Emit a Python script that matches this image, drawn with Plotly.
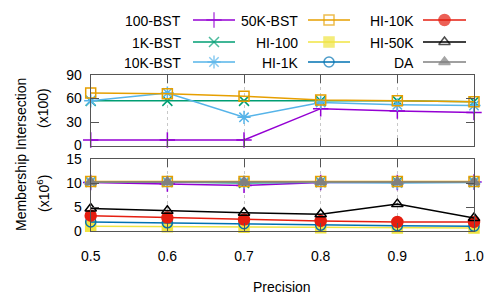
import plotly.graph_objects as go

precision = [0.5, 0.6, 0.7, 0.8, 0.9, 1.0]
precision_labels = ["0.5", "0.6", "0.7", "0.8", "0.9", "1.0"]
series_names = ["100-BST", "1K-BST", "10K-BST", "50K-BST", "HI-100", "HI-1K", "HI-10K", "HI-50K", "DA"]

# top panel (x100)
top_100_bst = [7, 7, 7, 47, 44, 42]
top_1k_bst = [57, 57, 57, 57, 57, 56]
top_10k_bst = [57, 67, 36, 55, 52, 51]
top_50k_bst = [67, 66, 63, 58, 57, 56]

# bottom panel (x10^6)
bot_100_bst = [10.1, 9.8, 9.5, 10.1, 10.1, 10.2]
bot_1k_bst = [10.2, 10.2, 10.0, 10.2, 10.2, 10.2]
bot_10k_bst = [10.2, 10.2, 10.2, 10.1, 10.0, 10.1]
bot_50k_bst = [10.3, 10.3, 10.3, 10.3, 10.3, 10.3]
bot_hi_100 = [1.0, 0.9, 0.8, 0.7, 0.6, 0.6]
bot_hi_1k = [1.9, 1.7, 1.5, 1.2, 1.1, 1.0]
bot_hi_10k = [3.2, 2.8, 2.4, 2.1, 1.9, 1.9]
bot_hi_50k = [4.7, 4.2, 3.8, 3.5, 5.6, 2.7]
bot_da = [10.2, 10.2, 10.2, 10.2, 10.2, 10.2]

top_ticks = [0, 30, 60, 90]
bot_ticks = [0, 5, 10, 15]

colors = ["#9400D3", "#009E73", "#56B4E9", "#E69F00", "#F0E442", "#0072B2", "#E51E10", "#000000", "#808080"]
symbols = ["cross-thin-open", "x-thin-open", "asterisk-open", "square-open", "square",
           "circle-open", "circle", "triangle-up-open", "triangle-up"]
msizes = [11, 10, 11, 10, 10, 10, 11, 10, 10]

top_data = [top_100_bst, top_1k_bst, top_10k_bst, top_50k_bst]
bot_data = [bot_100_bst, bot_1k_bst, bot_10k_bst, bot_50k_bst, bot_hi_100, bot_hi_1k,
            bot_hi_10k, bot_hi_50k, bot_da]

OFF = 8  # page body margin
W, H = 498 - OFF, 299 - OFF
B = 68
PH = H - B  # plot area height with t=0


def px(x):
    return (x - OFF) / W


def py(p):
    return (PH - (p - OFF)) / PH


FONT = "Liberation Sans, Arial, sans-serif"
fig = go.Figure()


def add_series(i, ys, xa, ya):
    fig.add_trace(go.Scatter(
        x=precision, y=ys, mode="lines+markers", xaxis=xa, yaxis=ya,
        line=dict(color=colors[i], width=1.5),
        marker=dict(symbol=symbols[i], size=msizes[i], color=colors[i],
                    line=dict(color=colors[i], width=1.5)),
        cliponaxis=False, showlegend=False, name=series_names[i]))


for i, ys in enumerate(top_data):
    add_series(i, ys, "x2", "y2")
for i, ys in enumerate(bot_data):
    add_series(i, ys, "x", "y")

# legend samples (layout positions in pixel units on a helper axis)
col_text_right = [183, 300, 416]
col_line = [(193, 235), (308, 350), (423, 466)]
row_y = [20, 42, 62]
for i, name in enumerate(series_names):
    c, r = divmod(i, 3)
    x1, x2 = col_line[c]
    fig.add_trace(go.Scatter(
        x=[x1, (x1 + x2) / 2, x2], y=[row_y[r]] * 3, mode="lines+markers",
        xaxis="x3", yaxis="y3",
        line=dict(color=colors[i], width=1.5),
        marker=dict(symbol=symbols[i], size=[0, msizes[i], 0], color=colors[i],
                    line=dict(color=colors[i], width=1.5)),
        cliponaxis=False, showlegend=False, hoverinfo="skip"))
    fig.add_annotation(x=px(col_text_right[c]), y=py(row_y[r] + 1), xref="paper", yref="paper",
                       text=name, showarrow=False, xanchor="right", yanchor="middle",
                       font=dict(size=14, color="#000", family=FONT))

xdom = [px(90.7), px(474)]
axcol = "#555555"
common_x = dict(range=[0.5, 1.0], domain=xdom, showline=True, linecolor=axcol, linewidth=1,
                mirror="ticks", ticks="inside", ticklen=8, tickcolor=axcol,
                tickvals=precision, showgrid=True, gridcolor="#c8c8c8", griddash="dot",
                gridwidth=1, zeroline=False, automargin=False)
common_y = dict(showline=True, linecolor=axcol, linewidth=1, mirror="ticks", ticks="inside",
                ticklen=8, tickcolor=axcol, showgrid=False, zeroline=False, automargin=False,
                ticklabelstandoff=5,
                tickfont=dict(size=14, color="#000", family=FONT))

fig.update_layout(
    width=W, height=H, margin=dict(l=0, r=0, t=0, b=B),
    plot_bgcolor="white", paper_bgcolor="white",
    font=dict(family=FONT, size=14, color="#000"),
    xaxis=dict(**common_x, anchor="y", ticktext=precision_labels, ticklabelstandoff=12,
               tickfont=dict(size=14, color="#000", family=FONT)),
    yaxis=dict(**common_y, domain=[0, py(159)], range=[0, 15], tickvals=bot_ticks, anchor="x"),
    xaxis2=dict(**common_x, anchor="y2", showticklabels=False, matches="x"),
    yaxis2=dict(**common_y, domain=[py(145.5), py(75)], range=[0, 90], tickvals=top_ticks, anchor="x2"),
    xaxis3=dict(domain=[0, 1], range=[OFF, 498], visible=False, anchor="y3"),
    yaxis3=dict(domain=[py(72), 1], range=[72, OFF], visible=False, anchor="x3"),
)

fig.add_annotation(x=px(282), y=py(287), xref="paper", yref="paper", text="Precision",
                   showarrow=False, xanchor="center", yanchor="middle",
                   font=dict(size=14, color="#000", family=FONT))
fig.add_annotation(x=px(21), y=py(155), xref="paper", yref="paper", text="Membership Intersection",
                   showarrow=False, textangle=-90, xanchor="center", yanchor="middle",
                   font=dict(size=14, color="#000", family=FONT))
fig.add_annotation(x=px(43), y=py(108), xref="paper", yref="paper", text="(x100)",
                   showarrow=False, textangle=-90, xanchor="center", yanchor="middle",
                   font=dict(size=14, color="#000", family=FONT))
fig.add_annotation(x=px(43), y=py(194), xref="paper", yref="paper", text="(x10<sup>6</sup>)",
                   showarrow=False, textangle=-90, xanchor="center", yanchor="middle",
                   font=dict(size=14, color="#000", family=FONT))

fig.write_html("out.html")
